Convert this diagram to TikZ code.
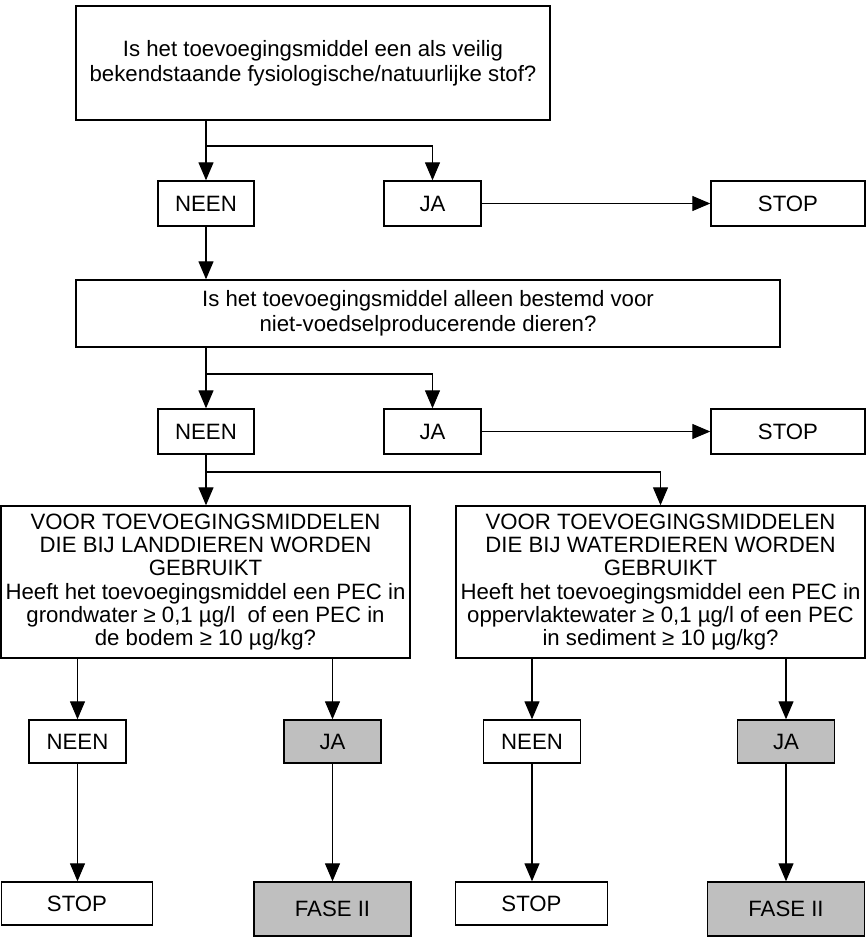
\documentclass[tikz,border=0pt]{standalone}
\usepackage{fontspec}
\setmainfont{Liberation Sans}
\usetikzlibrary{arrows.meta}
\begin{document}
\begin{tikzpicture}[x=1pt,y=-1pt,
  box/.style={draw, line width=1.4pt, inner sep=0pt, align=center, font=\fontsize{22.2}{25}\selectfont},
  grey/.style={box, fill=gray!50},
  arr/.style={line width=1.2pt, -{Triangle[width=15pt,length=18pt]}},
  ln/.style={line width=1.2pt}]
\useasboundingbox (0,0) rectangle (866,945);
\fill[white] (0,0) rectangle (866,945);
% nodes
\node[box, minimum width=474pt, minimum height=114pt] (top) at (313,63)
  {Is het toevoegingsmiddel een als veilig\\bekendstaande fysiologische/natuurlijke stof?};
\node[box, minimum width=96pt, minimum height=45pt] (n1) at (206,203.5) {NEEN};
\node[box, minimum width=97pt, minimum height=45pt] (j1) at (432.5,203.5) {JA};
\node[box, minimum width=154pt, minimum height=45pt] (s1) at (788,203.5) {STOP};
\node[box, minimum width=704pt, minimum height=67pt] (q2) at (428,313.5)
  {Is het toevoegingsmiddel alleen bestemd voor\\niet-voedselproducerende dieren?};
\node[box, minimum width=96pt, minimum height=45pt] (n2) at (206,431.5) {NEEN};
\node[box, minimum width=97pt, minimum height=45pt] (j2) at (432.5,431.5) {JA};
\node[box, minimum width=154pt, minimum height=45pt] (s2) at (788,431.5) {STOP};
\node[box, font=\fontsize{22.2}{23.2}\selectfont, minimum width=409pt, minimum height=152pt] (L) at (205.5,582)
  {VOOR TOEVOEGINGSMIDDELEN\\DIE BIJ LANDDIEREN WORDEN\\GEBRUIKT\\Heeft het toevoegingsmiddel een PEC in\\grondwater ≥ 0,1 µg/l\ \ of een PEC in\\de bodem ≥ 10 µg/kg?};
\node[box, font=\fontsize{22.2}{23.2}\selectfont, minimum width=409pt, minimum height=152pt] (R) at (660.5,582)
  {VOOR TOEVOEGINGSMIDDELEN\\DIE BIJ WATERDIEREN WORDEN\\GEBRUIKT\\Heeft het toevoegingsmiddel een PEC in\\oppervlaktewater ≥ 0,1 µg/l of een PEC\\in sediment ≥ 10 µg/kg?};
\node[box, minimum width=97pt, minimum height=43pt] (n3L) at (77.5,741.5) {NEEN};
\node[grey, minimum width=97pt, minimum height=43pt] (j3L) at (332.5,741.5) {JA};
\node[box, minimum width=97pt, minimum height=43pt] (n3R) at (532,741.5) {NEEN};
\node[grey, minimum width=97pt, minimum height=43pt] (j3R) at (786,741.5) {JA};
\node[box, minimum width=151pt, minimum height=43pt] (s3L) at (77,903.5) {STOP};
\node[grey, minimum width=157pt, minimum height=54pt] (f3L) at (332.5,909) {FASE II};
\node[box, minimum width=152pt, minimum height=43pt] (s3R) at (531.5,903.5) {STOP};
\node[grey, minimum width=157pt, minimum height=54pt] (f3R) at (786,909) {FASE II};
% branch points
\coordinate (b1) at (206,146);
\coordinate (b2) at (206,374);
\coordinate (b3) at (206,472);
% connectors
\draw[arr] (top.south -| n1) -- (n1.north);
\draw[arr] (b1) -| (j1.north);
\draw[arr] (j1.east) -- (s1.west);
\draw[arr] (n1.south) -- (n1.south |- q2.north);
\draw[arr] (q2.south -| n2) -- (n2.north);
\draw[arr] (b2) -| (j2.north);
\draw[arr] (j2.east) -- (s2.west);
\draw[arr] (n2.south) -- (n2.south |- L.north);
\draw[arr] (b3) -| (R.north);
\draw[arr] (L.south -| n3L) -- (n3L.north);
\draw[arr] (L.south -| j3L) -- (j3L.north);
\draw[arr] (R.south -| n3R) -- (n3R.north);
\draw[arr] (R.south -| j3R) -- (j3R.north);
\draw[arr] (n3L.south) -- (n3L.south |- s3L.north);
\draw[arr] (j3L.south) -- (j3L.south |- f3L.north);
\draw[arr] (n3R.south) -- (n3R.south |- s3R.north);
\draw[arr] (j3R.south) -- (j3R.south |- f3R.north);
\end{tikzpicture}
\end{document}
